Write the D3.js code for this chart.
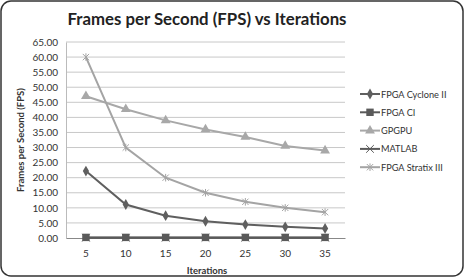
<!DOCTYPE html>
<html>
<head>
<meta charset="utf-8">
<script src="https://cdn.jsdelivr.net/npm/d3@7"></script>
<style>
  body { margin: 0; background: #fff; }
  text { font-family: Lato, "Open Sans", sans-serif; }
</style>
</head>
<body>
<div id="chart"></div>
<script>
// data
var iterations = [5, 10, 15, 20, 25, 30, 35];
var yTicks = [0, 5, 10, 15, 20, 25, 30, 35, 40, 45, 50, 55, 60, 65];
var seriesNames = ["FPGA Cyclone II", "FPGA CI", "GPGPU", "MATLAB", "FPGA Stratix III"];
var cycloneII = [22.2, 11.1, 7.4, 5.55, 4.44, 3.7, 3.17];
var fpgaCI = [0.2, 0.2, 0.2, 0.2, 0.2, 0.2, 0.2];
var gpgpu = [47.0, 42.7, 39.0, 36.0, 33.5, 30.5, 29.0];
var matlab = [0.1, 0.1, 0.1, 0.1, 0.1, 0.1, 0.1];
var stratixIII = [60.0, 30.0, 20.0, 15.0, 12.0, 10.0, 8.57];

var W = 465, H = 278;
var svg = d3.select("#chart").append("svg")
    .attr("width", W)
    .attr("height", H);

//outer frame
svg.append("rect")
    .attr("x", 1).attr("y", 1)
    .attr("width", 462).attr("height", 275)
    .attr("rx", 10).attr("ry", 10)
    .attr("fill", "#fff")
    .attr("stroke", "#333")
    .attr("stroke-width", 1.5);

var plotLeft = 66, plotRight = 345, plotTop = 42, plotBottom = 238;

var x = d3.scaleBand().domain(iterations).range([plotLeft, plotRight]);
var y = d3.scaleLinear().domain([0, 65]).range([plotBottom, plotTop]);

//gridlines
svg.append("g")
    .selectAll("line")
    .data(yTicks.slice(1))
    .join("line")
    .attr("x1", plotLeft).attr("x2", plotRight)
    .attr("y1", d => y(d)).attr("y2", d => y(d))
    .attr("stroke", "#c8c8c8")
    .attr("stroke-width", 1);

//y axis
var yAxis = svg.append("g")
    .attr("transform", "translate(" + plotLeft + ",0)")
    .call(d3.axisLeft(y).tickValues(yTicks).tickFormat(d3.format(".2f")).tickSize(0).tickPadding(8));
yAxis.select(".domain").attr("stroke", "#bbb");
yAxis.selectAll("text").attr("font-size", 10).attr("fill", "#333").attr("font-family", "Lato, sans-serif");

//x axis
var xAxis = svg.append("g")
    .attr("transform", "translate(0," + plotBottom + ")")
    .call(d3.axisBottom(x).tickSize(0).tickPadding(12));
xAxis.select(".domain").attr("stroke", "#888");
xAxis.selectAll("text").attr("font-size", 10).attr("fill", "#333").attr("font-family", "Lato, sans-serif");

//title
svg.append("text")
    .attr("x", 207).attr("y", 25)
    .attr("text-anchor", "middle")
    .attr("font-size", 16.8)
    .attr("font-weight", "bold")
    .attr("fill", "#222")
    .text("Frames per Second (FPS) vs Iterations");

svg.append("text")
    .attr("x", 207).attr("y", 274)
    .attr("text-anchor", "middle")
    .attr("font-size", 9.5)
    .attr("font-weight", "bold")
    .attr("fill", "#333")
    .text("Iterations");

svg.append("text")
    .attr("transform", "translate(24,140) rotate(-90)")
    .attr("text-anchor", "middle")
    .attr("font-size", 9.5)
    .attr("font-weight", "bold")
    .attr("fill", "#333")
    .text("Frames per Second (FPS)");

var star = {
    draw: function (ctx, size) {
        var r = Math.sqrt(size) / 2;
        ctx.moveTo(-r, -r); ctx.lineTo(r, r);
        ctx.moveTo(-r, r); ctx.lineTo(r, -r);
        ctx.moveTo(0, -r * 1.2); ctx.lineTo(0, r * 1.2);
    }
};

var series = [
    { name: seriesNames[3], values: matlab, color: "#5a5a5a", symbol: d3.symbolX, size: 40, stroked: true },
    { name: seriesNames[0], values: cycloneII, color: "#5f5f5f", symbol: d3.symbolDiamond, size: 34, stroked: false },
    { name: seriesNames[1], values: fpgaCI, color: "#5a5a5a", symbol: d3.symbolSquare, size: 55, stroked: false },
    { name: seriesNames[2], values: gpgpu, color: "#a8a8a8", symbol: d3.symbolTriangle, size: 42, stroked: false },
    { name: seriesNames[4], values: stratixIII, color: "#a4a4a4", symbol: star, size: 40, stroked: true }
];

var line = d3.line()
    .x((d, i) => x(iterations[i]) + x.bandwidth() / 2)
    .y(d => y(d));

series.forEach(function (s) {
    svg.append("path")
        .datum(s.values)
        .attr("d", line)
        .attr("fill", "none")
        .attr("stroke", s.color)
        .attr("stroke-width", 2);

    svg.append("g")
        .selectAll("path")
        .data(s.values)
        .join("path")
        .attr("transform", (d, i) => "translate(" + (x(iterations[i]) + x.bandwidth() / 2) + "," + y(d) + ")")
        .attr("d", d3.symbol().type(s.symbol).size(s.size))
        .attr("fill", s.stroked ? "none" : s.color)
        .attr("stroke", s.stroked ? s.color : "none")
        .attr("stroke-width", 1);
});

//legend
var legendOrder = [1, 2, 3, 0, 4];
var legend = svg.append("g");
legendOrder.forEach(function (k, i) {
    var s = series[k];
    var ly = 94 + i * 18.3;
    legend.append("line")
        .attr("x1", 360).attr("x2", 380)
        .attr("y1", ly).attr("y2", ly)
        .attr("stroke", s.color)
        .attr("stroke-width", 2);
    legend.append("path")
        .attr("transform", "translate(370," + ly + ")")
        .attr("d", d3.symbol().type(s.symbol).size(s.size))
        .attr("fill", s.stroked ? "none" : s.color)
        .attr("stroke", s.stroked ? s.color : "none")
        .attr("stroke-width", 1);
    legend.append("text")
        .attr("x", 381).attr("y", ly + 3.5)
        .attr("font-size", 9.2)
        .attr("fill", "#333")
        .text(s.name);
});
</script>
</body>
</html>
